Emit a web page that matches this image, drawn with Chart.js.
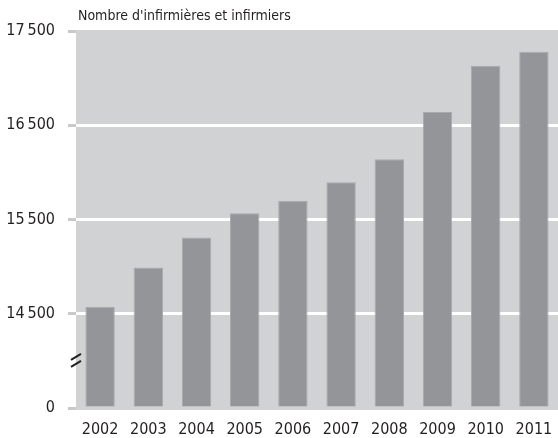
<!DOCTYPE html>
<html>
<head>
<meta charset="utf-8">
<script src="https://cdn.jsdelivr.net/npm/chart.js@4"></script>
<style>
  html, body { margin: 0; padding: 0; background: #fff; }
  #wrap { width: 558px; height: 438px; }
</style>
</head>
<body>
<div id="wrap"><canvas id="c" width="558" height="438"></canvas></div>
<script>
// Nombre d'infirmières et infirmiers, 2002-2011 (axe coupé entre 0 et 14 500)
const years = ["2002", "2003", "2004", "2005", "2006", "2007", "2008", "2009", "2010", "2011"];
const nurses = [14575, 14990, 15310, 15565, 15700, 15895, 16140, 16640, 17130, 17280];
const yTicks = [13500, 14500, 15500, 16500, 17500];
const yLabels = ["0", "14\u2009500", "15\u2009500", "16\u2009500", "17\u2009500"];
const titleText = "Nombre d'infirmières et infirmiers";

const FONT = "'DejaVu Sans Condensed', 'Liberation Sans Narrow', sans-serif";

// fond gris de la zone de tracé + titre + signe de coupure
const decor = {
  id: "decor",
  beforeDraw(chart) {
    const { ctx, chartArea: a } = chart;
    ctx.save();
    ctx.fillStyle = "#d1d2d4";
    ctx.fillRect(a.left, a.top - 1, a.right - a.left, a.bottom - a.top + 3);
    ctx.restore();
  },
  afterDraw(chart) {
    const { ctx, chartArea: a } = chart;
    const y = chart.scales.y.getPixelForValue(14000);
    ctx.save();
    ctx.strokeStyle = "#222";
    ctx.lineWidth = 2;
    ctx.beginPath();
    ctx.moveTo(a.left - 5, y - 1); ctx.lineTo(a.left + 5, y - 7);
    ctx.moveTo(a.left - 5, y + 6); ctx.lineTo(a.left + 5, y);
    ctx.stroke();
    ctx.fillStyle = "#231f20";
    ctx.font = "14px " + FONT;
    ctx.textBaseline = "alphabetic";
    ctx.fillText(titleText, a.left + 2, 20);
    ctx.restore();
  },
};

new Chart(document.getElementById("c").getContext("2d"), {
  type: "bar",
  data: {
    labels: years,
    datasets: [{
      data: nurses,
      backgroundColor: "#939598",
      borderColor: "#a9aaac",
      borderWidth: 1,
      borderSkipped: "bottom",
      barPercentage: 0.61,
      categoryPercentage: 1,
      base: 13500,
    }],
  },
  options: {
    responsive: false,
    animation: false,
    devicePixelRatio: 1,
    layout: { padding: { top: 31, right: 0, left: 0, bottom: 0 } },
    plugins: { legend: { display: false }, tooltip: { enabled: false } },
    scales: {
      x: {
        grid: { display: false },
        border: { display: false },
        ticks: { color: "#231f20", font: { family: FONT, size: 16 }, padding: 4, maxRotation: 0 },
        afterFit(s) { s.height = 30; },
      },
      y: {
        min: 13500,
        max: 17500,
        afterBuildTicks(s) { s.ticks = yTicks.map((v) => ({ value: v })); },
        border: { display: false },
        grid: {
          color: (c) => (c.tick && (c.tick.value === 13500 || c.tick.value === 17500) ? "rgba(0,0,0,0)" : "#fff"),
          lineWidth: 3,
          tickColor: "#c8c9cb",
          tickWidth: 3,
          tickLength: 8,
        },
        ticks: {
          color: "#231f20",
          font: { family: FONT, size: 16 },
          padding: 13,
          callback: (v) => yLabels[yTicks.indexOf(v)],
        },
        afterFit(s) { s.width = 76; },
      },
    },
  },
  plugins: [decor],
});
</script>
</body>
</html>
